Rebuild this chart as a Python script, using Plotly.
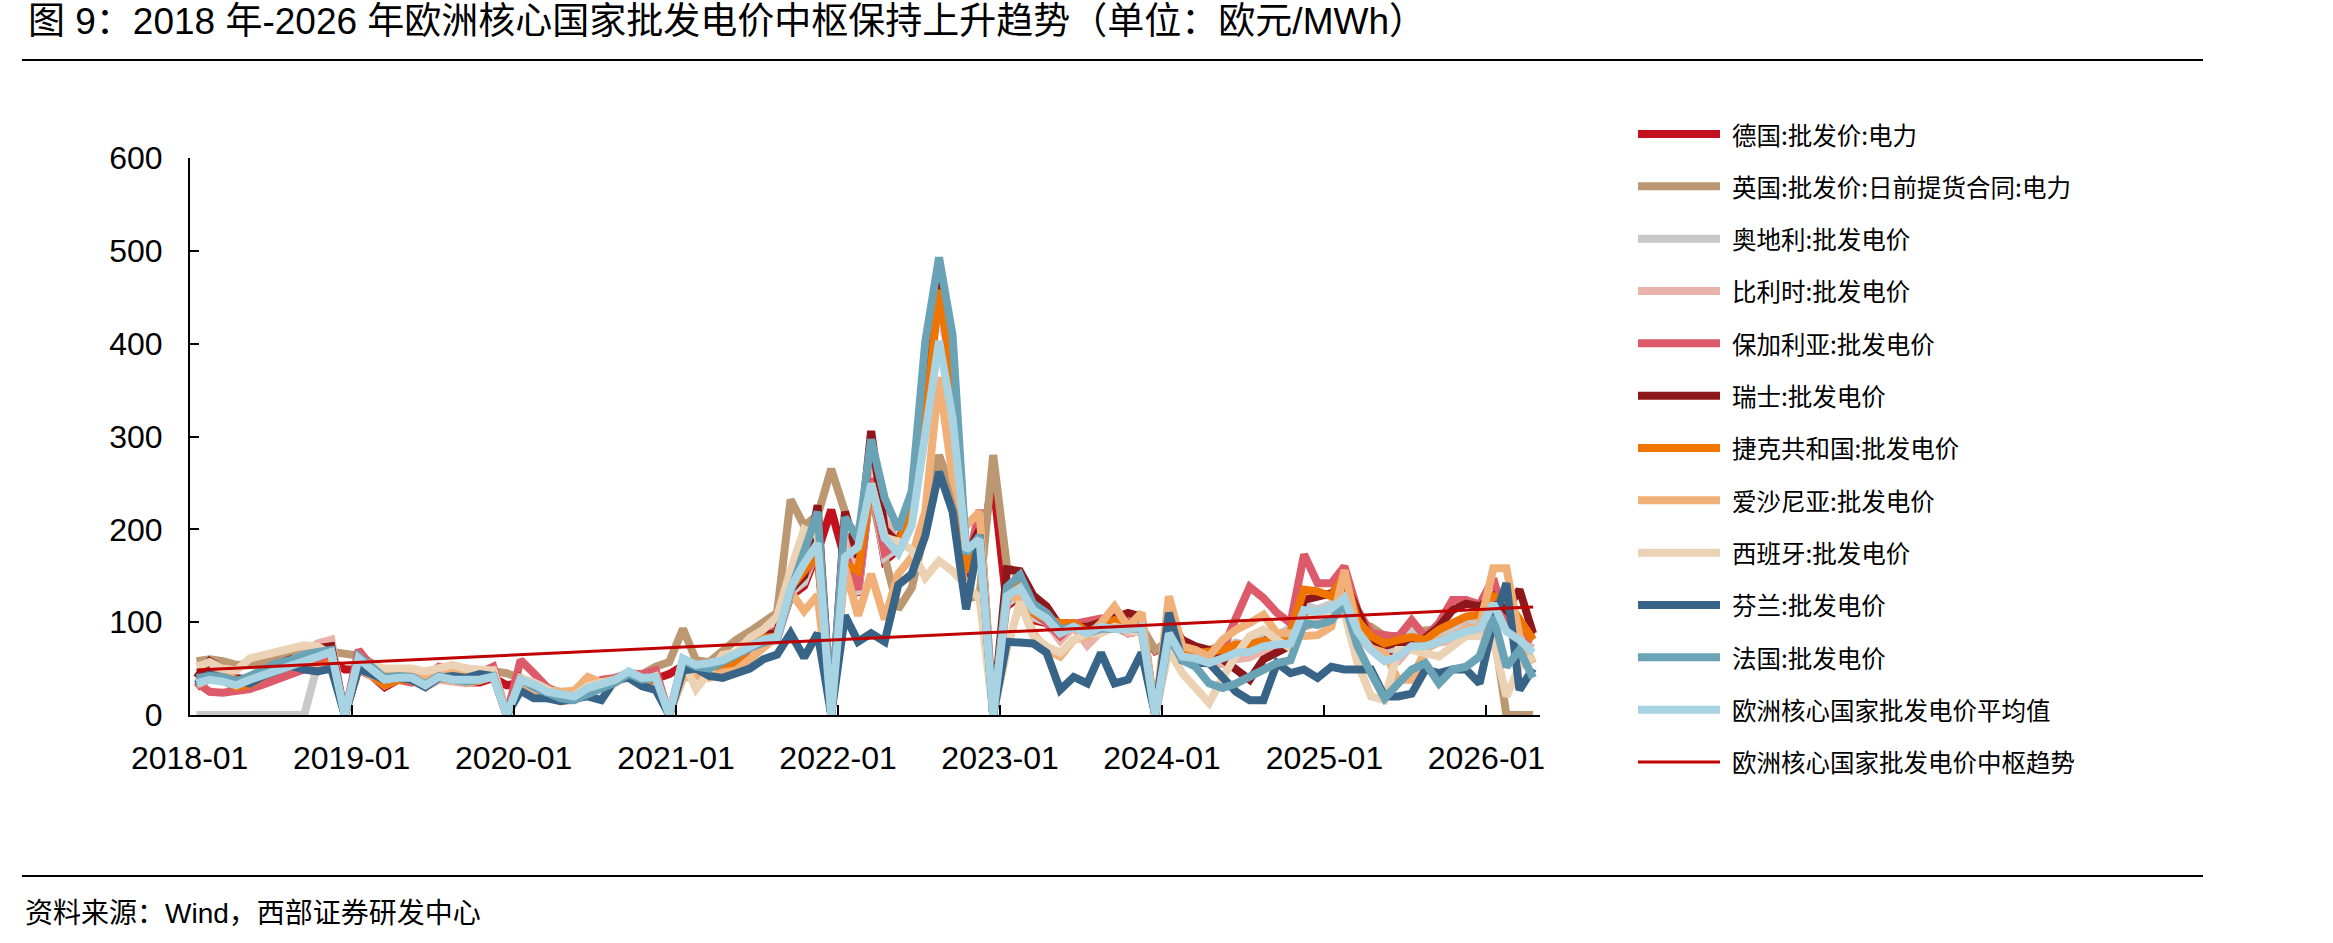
import plotly.graph_objects as go

W, H = 2333, 943

# ---------------- data (EUR/MWh, monthly 2018-01 .. 2026-04) ----------------
months = [f"{2018 + i // 12}-{i % 12 + 1:02d}" for i in range(100)]

germany = [
    30, 40, 38, 29, 33, 43, 49, 56, 55, 53, 58, 49,
    49, 42, 30, 38, 38, 32, 40, 37, 35, 35, 40, 32,
    35, 22, 23, 17, 18, 26, 30, 35, 44, 34, 39, 44,
    53, 49, 47, 54, 54, 74, 82, 83, 128, 139, 176, 221,
    168, 129, 252, 166, 178, 218, 315, 465, 356, 150, 176, 252,
    117, 128, 102, 99, 82, 95, 77, 91, 101, 88, 91, 69,
    77, 61, 65, 62, 67, 73, 68, 82, 78, 86, 112, 108,
    114, 129, 95, 78, 67, 64, 88, 77, 84, 85, 100, 92,
    112, 104, 92, 84]
uk = [
    58, 60, 58, 54, 55, 57, 62, 66, 68, 70, 68, 66,
    64, 56, 47, 46, 45, 44, 46, 43, 42, 44, 47, 45,
    40, 35, 30, 24, 22, 26, 30, 36, 44, 44, 52, 57,
    93, 59, 57, 70, 81, 90, 99, 110, 232, 204, 215, 265,
    219, 170, 240, 170, 114, 137, 200, 280, 240, 125, 129, 280,
    160, 149, 120, 110, 90, 95, 88, 90, 95, 88, 95, 70,
    80, 68, 68, 70, 75, 75, 78, 72, 78, 88, 95, 100,
    110, 115, 100, 95, 85, 85, 90, 90, 92, 95, 100, 95,
    95, 0, 0, 0]
austria = [
    0, 0, 0, 0, 0, 0, 0, 0, 0, 55, 58, 0,
    51, 44, 32, 39, 39, 34, 41, 38, 37, 38, 42, 0,
    37, 25, 25, 18, 19, 27, 31, 36, 45, 36, 41, 0,
    56, 50, 48, 55, 56, 76, 84, 85, 132, 143, 181, 0,
    170, 130, 255, 170, 180, 220, 320, 470, 360, 155, 182, 0,
    120, 130, 105, 100, 85, 98, 80, 95, 104, 95, 100, 0,
    82, 66, 70, 68, 72, 78, 74, 90, 86, 94, 118, 114,
    120, 134, 100, 82, 72, 70, 92, 82, 88, 90, 105, 98,
    115, 108, 95, 88]
belgium = [
    41, 46, 42, 40, 37, 44, 52, 60, 66, 77, 81, 0,
    51, 42, 32, 38, 37, 30, 38, 36, 34, 37, 42, 0,
    34, 22, 23, 15, 16, 24, 29, 35, 42, 37, 39, 0,
    53, 48, 48, 54, 54, 73, 78, 80, 130, 160, 210, 0,
    200, 160, 290, 210, 185, 230, 380, 440, 370, 170, 190, 0,
    130, 140, 115, 100, 80, 95, 75, 90, 100, 88, 92, 0,
    75, 58, 60, 55, 55, 60, 62, 70, 70, 78, 100, 100,
    110, 120, 85, 70, 60, 58, 75, 72, 78, 80, 95, 88,
    100, 95, 80, 72]
bulgaria = [
    35, 25, 24, 26, 28, 33, 38, 45, 50, 55, 60, 0,
    70, 52, 38, 38, 35, 40, 52, 50, 50, 45, 52, 0,
    59, 45, 30, 22, 22, 28, 38, 40, 45, 44, 48, 0,
    55, 50, 48, 52, 56, 72, 85, 92, 137, 150, 176, 0,
    175, 135, 255, 175, 185, 225, 320, 460, 360, 155, 221, 0,
    125, 140, 110, 100, 85, 98, 102, 104, 104, 100, 98, 0,
    85, 65, 65, 60, 70, 105, 138, 126, 110, 99, 173, 142,
    142, 160, 113, 88, 86, 84, 102, 84, 99, 124, 124, 119,
    147, 97, 88, 81]
swiss = [
    40, 58, 50, 40, 38, 45, 55, 60, 62, 72, 74, 0,
    55, 45, 35, 40, 38, 33, 42, 40, 38, 40, 45, 0,
    40, 30, 28, 20, 20, 28, 32, 38, 46, 38, 42, 0,
    58, 52, 52, 58, 58, 78, 86, 88, 135, 150, 226, 0,
    219, 170, 306, 200, 185, 230, 380, 470, 380, 170, 200, 0,
    157, 155, 129, 117, 95, 95, 95, 100, 106, 110, 106, 0,
    102, 81, 74, 70, 60, 50, 38, 60, 68, 75, 124, 128,
    131, 144, 110, 79, 74, 79, 76, 83, 95, 113, 120, 117,
    128, 113, 135, 88]
czech = [
    35, 40, 38, 30, 33, 42, 48, 55, 55, 52, 56, 0,
    50, 43, 32, 38, 38, 33, 40, 38, 36, 37, 42, 0,
    36, 24, 24, 17, 18, 26, 31, 36, 44, 35, 40, 0,
    54, 50, 48, 54, 55, 75, 83, 85, 137, 155, 174, 0,
    163, 155, 250, 193, 181, 234, 316, 458, 368, 155, 189, 0,
    133, 140, 110, 104, 99, 99, 90, 95, 102, 95, 95, 0,
    80, 65, 67, 67, 70, 76, 76, 80, 78, 90, 135, 133,
    128, 151, 102, 85, 77, 81, 84, 81, 92, 99, 106, 108,
    128, 124, 102, 81]
estonia = [
    32, 40, 47, 37, 38, 44, 53, 57, 50, 50, 54, 0,
    50, 43, 40, 41, 43, 40, 48, 48, 46, 43, 48, 0,
    32, 25, 27, 25, 26, 41, 35, 38, 42, 38, 40, 0,
    40, 42, 40, 46, 48, 60, 72, 85, 133, 112, 129, 0,
    159, 107, 152, 103, 152, 170, 219, 364, 256, 204, 219, 0,
    131, 124, 88, 70, 63, 81, 85, 99, 117, 95, 110, 0,
    128, 74, 70, 63, 81, 92, 99, 108, 88, 88, 85, 86,
    95, 156, 90, 72, 67, 38, 38, 70, 81, 85, 92, 95,
    158, 158, 85, 56]
spain = [
    52, 57, 50, 48, 61, 65, 68, 72, 75, 74, 65, 0,
    60, 54, 50, 50, 50, 47, 50, 54, 50, 50, 48, 0,
    40, 35, 28, 18, 21, 31, 35, 36, 42, 37, 42, 0,
    60, 28, 45, 65, 67, 83, 92, 106, 156, 200, 193, 0,
    201, 200, 249, 191, 187, 178, 148, 166, 155, 140, 125, 0,
    70, 122, 85, 74, 67, 81, 88, 88, 95, 92, 88, 0,
    70, 45, 30, 13, 40, 65, 85, 92, 81, 72, 100, 110,
    105, 110, 56, 20, 16, 70, 70, 67, 63, 74, 85, 85,
    80, 20, 52, 63]
finland = [
    33, 44, 40, 37, 34, 42, 48, 53, 49, 47, 50, 0,
    50, 45, 38, 40, 38, 30, 40, 42, 40, 44, 42, 0,
    26, 18, 18, 15, 18, 20, 16, 38, 40, 31, 27, 0,
    48, 50, 42, 40, 45, 50, 60, 65, 88, 62, 88, 0,
    107, 79, 88, 79, 140, 152, 193, 262, 219, 114, 194, 0,
    79, 79, 77, 67, 27, 41, 34, 67, 34, 38, 67, 0,
    110, 59, 56, 56, 41, 25, 16, 16, 56, 45, 49, 40,
    52, 49, 49, 49, 20, 20, 23, 49, 45, 49, 49, 34,
    100, 142, 27, 50]
france = [
    40, 42, 41, 36, 42, 49, 56, 59, 65, 68, 70, 0,
    63, 52, 40, 42, 41, 33, 42, 38, 36, 38, 42, 0,
    38, 30, 24, 18, 16, 22, 30, 35, 44, 38, 40, 0,
    59, 52, 50, 58, 65, 72, 78, 82, 133, 174, 219, 0,
    213, 189, 297, 234, 200, 241, 402, 493, 409, 174, 193, 0,
    138, 151, 120, 110, 92, 95, 88, 93, 93, 92, 93, 0,
    85, 59, 52, 34, 29, 34, 41, 49, 56, 59, 99, 97,
    102, 120, 74, 45, 18, 34, 49, 56, 34, 49, 52, 63,
    106, 52, 70, 40]
average = [
    34, 38, 36, 32, 38, 43, 49, 54, 59, 65, 68, 0,
    61, 49, 38, 40, 40, 32, 41, 38, 38, 38, 41, 0,
    38, 33, 25, 23, 20, 29, 34, 38, 47, 40, 41, 0,
    61, 54, 56, 59, 66, 74, 81, 84, 137, 163, 185, 0,
    170, 181, 249, 191, 174, 204, 308, 403, 320, 178, 189, 0,
    128, 137, 113, 104, 88, 95, 88, 95, 93, 92, 95, 0,
    88, 63, 61, 56, 61, 67, 68, 74, 76, 77, 113, 111,
    115, 126, 90, 70, 58, 63, 74, 74, 79, 85, 90, 93,
    120, 90, 81, 67]
trend_months = ["2018-01", "2026-04"]
trend_values = [48.5, 116.3]

series_names = [
    "德国:批发价:电力", "英国:批发价:日前提货合同:电力", "奥地利:批发电价",
    "比利时:批发电价", "保加利亚:批发电价", "瑞士:批发电价", "捷克共和国:批发电价",
    "爱沙尼亚:批发电价", "西班牙:批发电价", "芬兰:批发电价", "法国:批发电价",
    "欧洲核心国家批发电价平均值", "欧洲核心国家批发电价中枢趋势"]
series_values = [germany, uk, austria, belgium, bulgaria, swiss, czech,
                 estonia, spain, finland, france, average]
colors = ["#C3111E", "#BB9871", "#C9C9C9", "#E9B3A9", "#DD5A6A", "#8E171B",
          "#EF7400", "#F0B077", "#EBD2B4", "#386487", "#6AA2B6", "#A8D3E3", "#C00000"]

y_ticks = [0, 100, 200, 300, 400, 500, 600]

# ---------------- figure ----------------
def px(x):
    return x / W


def py(y):
    return 1 - y / H


LAT = "Liberation Sans, Arial, Noto Sans CJK SC"
CJK = "Noto Sans CJK SC, Liberation Sans"

fig = go.Figure()
for name, vals, col in zip(series_names, series_values, colors):
    fig.add_trace(go.Scatter(
        x=months, y=vals, name=name, mode="lines",
        xperiod="M1", xperiodalignment="middle",
        line=dict(color=col, width=8), showlegend=False))
fig.add_trace(go.Scatter(
    x=trend_months, y=trend_values, name=series_names[-1], mode="lines",
    xperiod="M1", xperiodalignment="middle",
    line=dict(color=colors[-1], width=3), showlegend=False))

x0, x1 = 189.7, 1539.7
ybot, ytop = 715.0, 158.0

fig.update_layout(
    width=W, height=H,
    margin=dict(l=0, r=0, t=0, b=0, pad=0, autoexpand=False),
    paper_bgcolor="white", plot_bgcolor="white", showlegend=False,
    xaxis=dict(
        domain=[px(x0), px(x1)], type="date", automargin=False,
        range=["2018-01-01", "2026-05-01"],
        tick0="2018-01-01", dtick="M12", tickformat="%Y-%m",
        ticks="inside", ticklen=10, tickwidth=1.5, tickcolor="black",
        showline=True, linecolor="black", linewidth=1.5,
        showgrid=False, zeroline=False,
        tickfont=dict(family=LAT, size=32, color="black"),
        ticklabelstandoff=14),
    yaxis=dict(
        domain=[py(ybot), py(ytop)], range=[0, 600], automargin=False,
        tickmode="array", tickvals=y_ticks,
        ticks="inside", ticklen=10, tickwidth=1.5, tickcolor="black",
        showline=True, linecolor="black", linewidth=1.5,
        showgrid=False, zeroline=False,
        tickfont=dict(family=LAT, size=32, color="black"),
        ticklabelstandoff=19),
)

shapes = []
annotations = []
# title and rules
annotations.append(dict(
    xref="paper", yref="paper", x=px(26), y=py(22), xanchor="left", yanchor="middle",
    text="图 9：2018 年-2026 年欧洲核心国家批发电价中枢保持上升趋势（单位：欧元/MWh）",
    showarrow=False, font=dict(family=LAT, size=37, color="black")))
shapes.append(dict(type="line", xref="paper", yref="paper", x0=px(22), x1=px(2203),
                   y0=py(60), y1=py(60), line=dict(color="black", width=2)))
shapes.append(dict(type="line", xref="paper", yref="paper", x0=px(22), x1=px(2203),
                   y0=py(876), y1=py(876), line=dict(color="black", width=2)))
annotations.append(dict(
    xref="paper", yref="paper", x=px(23), y=py(913), xanchor="left", yanchor="middle",
    text="资料来源：Wind，西部证券研发中心",
    showarrow=False, font=dict(family=LAT, size=28, color="black")))

# legend (drawn manually to match the long sample lines)
for i, (name, col) in enumerate(zip(series_names, colors)):
    yy = 134 + 52.33 * i
    w = 3 if i == len(series_names) - 1 else 8
    shapes.append(dict(type="line", xref="paper", yref="paper",
                       x0=px(1638), x1=px(1720), y0=py(yy), y1=py(yy),
                       line=dict(color=col, width=w)))
    annotations.append(dict(
        xref="paper", yref="paper", x=px(1730), y=py(yy), xanchor="left", yanchor="middle",
        text=name, showarrow=False, font=dict(family=CJK, size=24.5, color="black")))

fig.update_layout(shapes=shapes, annotations=annotations)
fig.write_html("out.html")
